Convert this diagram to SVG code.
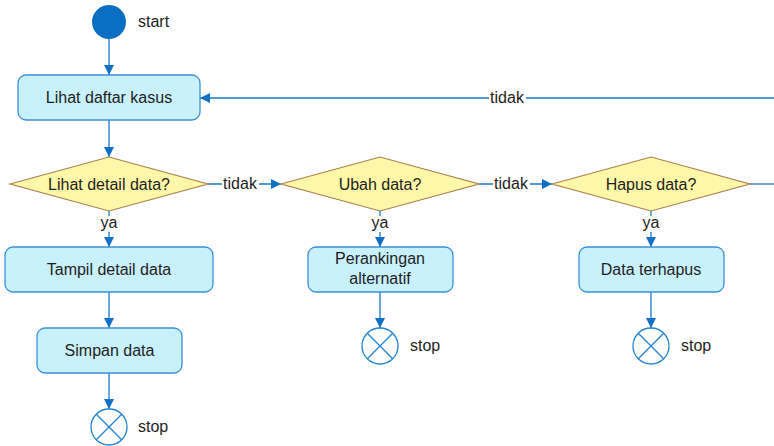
<svg xmlns="http://www.w3.org/2000/svg" width="774" height="446" viewBox="0 0 774 446">
  <style>
    text { font-family: "Liberation Sans", Arial, sans-serif; font-size: 16px; fill: #1e1e1e; }
    .c { text-anchor: middle; }
    .act { fill: #c8f1fd; stroke: #3d8fd6; stroke-width: 1.3; }
    .dec { fill: #fff8a8; stroke: #a8804f; stroke-width: 1.2; }
    .edge { fill: none; stroke: #1b78cc; stroke-width: 1.3; }
    .stop { fill: #ffffff; stroke: #2383d3; stroke-width: 1.3; }
    .lbl { fill: #ffffff; stroke: none; }
  </style>
  <defs>
    <marker id="arrow" viewBox="0 0 10 10" refX="10" refY="5" markerWidth="10" markerHeight="10" markerUnits="userSpaceOnUse" orient="auto">
      <path d="M0,0 L10,5 L0,10 Z" fill="#1270c4"/>
    </marker>
  </defs>

  <rect width="774" height="446" fill="#ffffff"/>

  <!-- connectors -->
  <g id="connectors">
    <line class="edge" x1="109" y1="39" x2="109" y2="75" marker-end="url(#arrow)"/>
    <line class="edge" x1="109" y1="120" x2="109" y2="157" marker-end="url(#arrow)"/>
    <line class="edge" x1="208" y1="184" x2="281" y2="184" marker-end="url(#arrow)"/>
    <line class="edge" x1="479" y1="184" x2="552" y2="184" marker-end="url(#arrow)"/>
    <polyline class="edge" points="750,184 780,184"/>
    <line class="edge" x1="780" y1="98" x2="200" y2="98" marker-end="url(#arrow)"/>
    <line class="edge" x1="109" y1="211" x2="109" y2="247" marker-end="url(#arrow)"/>
    <line class="edge" x1="380" y1="211" x2="380" y2="247" marker-end="url(#arrow)"/>
    <line class="edge" x1="651" y1="211" x2="651" y2="247" marker-end="url(#arrow)"/>
    <line class="edge" x1="109" y1="292" x2="109" y2="328" marker-end="url(#arrow)"/>
    <line class="edge" x1="109" y1="373" x2="109" y2="409" marker-end="url(#arrow)"/>
    <line class="edge" x1="380" y1="292" x2="380" y2="328" marker-end="url(#arrow)"/>
    <line class="edge" x1="651" y1="292" x2="651" y2="328" marker-end="url(#arrow)"/>

    <!-- edge labels -->
    <rect class="lbl" x="489" y="90" width="37" height="16"/>
    <text class="c" x="507" y="103">tidak</text>
    <rect class="lbl" x="222" y="176" width="37" height="16"/>
    <text class="c" x="240" y="189">tidak</text>
    <rect class="lbl" x="493" y="176" width="37" height="16"/>
    <text class="c" x="511" y="189">tidak</text>
    <rect class="lbl" x="99" y="216" width="20" height="16"/>
    <text class="c" x="109" y="228">ya</text>
    <rect class="lbl" x="370" y="216" width="20" height="16"/>
    <text class="c" x="380" y="228">ya</text>
    <rect class="lbl" x="641" y="216" width="20" height="16"/>
    <text class="c" x="651" y="228">ya</text>
  </g>

  <!-- start -->
  <g id="start">
    <circle cx="109" cy="22" r="17" fill="#0a6fc2"/>
    <text x="138" y="27">start</text>
  </g>

  <g id="lihat-daftar">
    <rect class="act" x="18" y="75" width="182" height="45" rx="8"/>
    <text class="c" x="109" y="103">Lihat daftar kasus</text>
  </g>

  <g id="dec-lihat">
    <polygon class="dec" points="10,184 109,157 208,184 109,211"/>
    <text class="c" x="109" y="189.5">Lihat detail data?</text>
  </g>

  <g id="dec-ubah">
    <polygon class="dec" points="281,184 380,157 479,184 380,211"/>
    <text class="c" x="380" y="189.5">Ubah data?</text>
  </g>

  <g id="dec-hapus">
    <polygon class="dec" points="552,184 651,157 750,184 651,211"/>
    <text class="c" x="651" y="189.5">Hapus data?</text>
  </g>

  <g id="tampil-detail">
    <rect class="act" x="5" y="247" width="208" height="45" rx="8"/>
    <text class="c" x="109" y="275">Tampil detail data</text>
  </g>

  <g id="perankingan">
    <rect class="act" x="308" y="247" width="145" height="45" rx="8"/>
    <text class="c" x="380" y="264">Perankingan</text>
    <text class="c" x="380" y="284">alternatif</text>
  </g>

  <g id="data-terhapus">
    <rect class="act" x="579" y="247" width="145" height="45" rx="8"/>
    <text class="c" x="651" y="275">Data terhapus</text>
  </g>

  <g id="simpan-data">
    <rect class="act" x="37" y="328" width="145" height="45" rx="8"/>
    <text class="c" x="109.5" y="356">Simpan data</text>
  </g>

  <g id="stop-1">
    <circle class="stop" cx="109" cy="427" r="18"/>
    <path class="stop" d="M96.3,414.3 L121.7,439.7 M121.7,414.3 L96.3,439.7"/>
    <text x="138" y="432">stop</text>
  </g>

  <g id="stop-2">
    <circle class="stop" cx="380" cy="346" r="18"/>
    <path class="stop" d="M367.3,333.3 L392.7,358.7 M392.7,333.3 L367.3,358.7"/>
    <text x="410" y="351">stop</text>
  </g>

  <g id="stop-3">
    <circle class="stop" cx="651" cy="346" r="18"/>
    <path class="stop" d="M638.3,333.3 L663.7,358.7 M663.7,333.3 L638.3,358.7"/>
    <text x="681" y="351">stop</text>
  </g>
</svg>
